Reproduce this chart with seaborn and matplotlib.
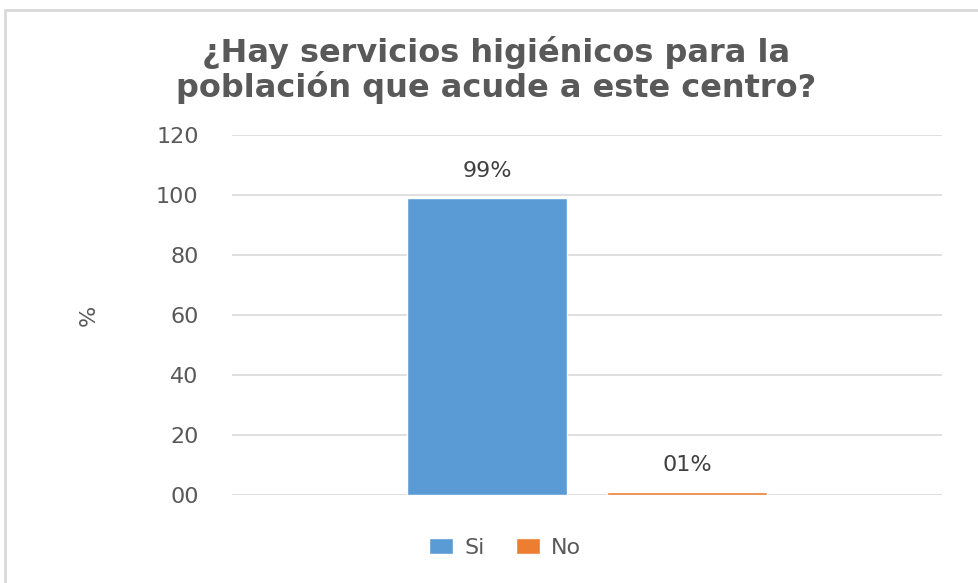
import matplotlib
matplotlib.use("Agg")
import matplotlib.pyplot as plt
from matplotlib.lines import Line2D
from matplotlib.patches import Patch
import pandas as pd
import seaborn as sns

# data
categorias = ["Si", "No"]
valores = [99, 1]
etiquetas = ["99%", "01%"]
colores = ["#5B9BD5", "#ED7D31"]
yticks = [0, 20, 40, 60, 80, 100, 120]
ytick_labels = ["00", "20", "40", "60", "80", "100", "120"]
titulo = "¿Hay servicios higiénicos para la\npoblación que acude a este centro?"

df = pd.DataFrame({"grupo": [""] * len(categorias), "serie": categorias, "valor": valores})

sns.set_theme(style="white")
plt.rcParams["font.family"] = ["DejaVu Sans"]

fig = plt.figure(figsize=(9.79, 5.83), dpi=100)
ax = fig.add_axes([232 / 979, 1 - 495 / 583, 710 / 979, 360 / 583])

sns.barplot(data=df, x="grupo", y="valor", hue="serie", palette=colores,
            width=0.563, gap=0.2, saturation=1, legend=False, ax=ax)

ax.set_xlim(-0.5, 0.5)
ax.set_ylim(0, 120)
ax.set_yticks(yticks)
ax.set_yticklabels(ytick_labels, fontsize=16, color="#595959")
ax.tick_params(axis="y", length=0, pad=24)
ax.set_xticks([])
ax.set_xlabel("")
ax.set_ylabel("%", fontsize=16, color="#595959")
ax.yaxis.set_label_coords(-0.187, 0.5)
ax.yaxis.grid(True, color="#D9D9D9", linewidth=1.2)
ax.set_axisbelow(True)
for s in ax.spines.values():
    s.set_visible(False)

for cont, lab in zip(ax.containers, etiquetas):
    ax.bar_label(cont, labels=[lab], padding=12, fontsize=16, color="#404040")

fig.text(496 / 979, 1 - 70 / 583, titulo, ha="center", va="center", fontsize=23,
         fontweight="bold", color="#595959", linespacing=1.05)

handles = [Patch(facecolor=c, label=l) for c, l in zip(colores, categorias)]
fig.legend(handles=handles, loc="center", bbox_to_anchor=(505 / 979, 1 - 548 / 583),
           ncol=2, frameon=False, fontsize=16, handlelength=1.1, handleheight=0.7,
           handletextpad=0.5, columnspacing=1.4, labelcolor="#595959")

# chart border (left and top edges visible)
fig.add_artist(Line2D([5 / 979, 5 / 979], [0, 1 - 10 / 583], transform=fig.transFigure,
                      color="#D9D9D9", linewidth=2))
fig.add_artist(Line2D([5 / 979, 1], [1 - 10 / 583, 1 - 10 / 583], transform=fig.transFigure,
                      color="#D9D9D9", linewidth=2))

fig.savefig("out.png", dpi=100)
